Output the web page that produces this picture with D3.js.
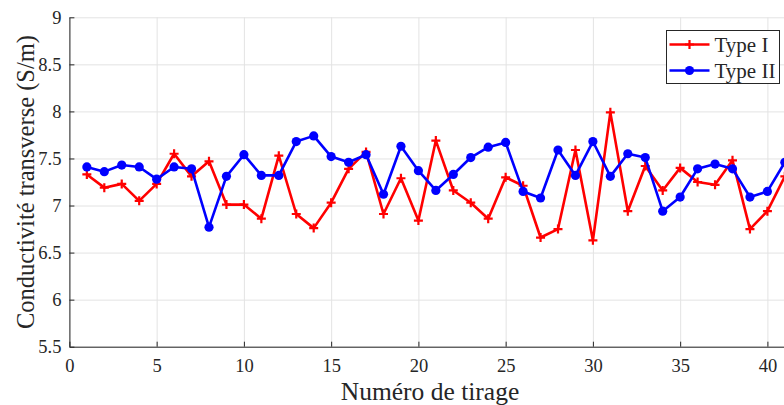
<!DOCTYPE html>
<html lang="fr">
<head>
    <meta charset="UTF-8">
    <title>Conductivité transverse</title>
    <script src="https://cdnjs.cloudflare.com/ajax/libs/d3/7.8.5/d3.min.js"></script>
    <style>
        body { margin: 0; background: #fff; }
        svg { display: block; overflow: hidden; }
        text { font-family: "Liberation Serif", "Times New Roman", serif; fill: #262626; }
    </style>
</head>
<body>
    <div id="wrapper"></div>
    <script>
        // données
        const tirage = [1, 2, 3, 4, 5, 6, 7, 8, 9, 10, 11, 12, 13, 14, 15, 16, 17, 18, 19, 20,
            21, 22, 23, 24, 25, 26, 27, 28, 29, 30, 31, 32, 33, 34, 35, 36, 37, 38, 39, 40, 41]
        const typeI = [7.33, 7.19, 7.23, 7.05, 7.23, 7.55, 7.31, 7.47, 7.01, 7.01, 6.86, 7.53, 6.91, 6.76, 7.03, 7.39, 7.57, 6.91, 7.29, 6.84,
            7.69, 7.16, 7.03, 6.86, 7.30, 7.21, 6.66, 6.75, 7.59, 6.63, 7.99, 6.94, 7.42, 7.16, 7.40, 7.25, 7.22, 7.48, 6.75, 6.94, 7.31]
        const typeII = [7.41, 7.36, 7.43, 7.41, 7.28, 7.41, 7.39, 6.77, 7.31, 7.54, 7.32, 7.32, 7.68, 7.74, 7.52, 7.46, 7.54, 7.12, 7.63, 7.37,
            7.16, 7.33, 7.51, 7.62, 7.67, 7.15, 7.08, 7.59, 7.32, 7.68, 7.31, 7.55, 7.51, 6.94, 7.09, 7.39, 7.44, 7.39, 7.09, 7.15, 7.46]
        const seriesNames = ['Type I', 'Type II']
        const xTicks = [0, 5, 10, 15, 20, 25, 30, 35, 40]
        const yTicks = [5.5, 6, 6.5, 7, 7.5, 8, 8.5, 9]

        function drawChart() {
            const dims = {
                width: 784,
                height: 405,
                left: 69.4,
                top: 17.3,
                bottom: 346.7,
                pxPerUnit: 17.45,
            }

            const svg = d3.select('#wrapper').append('svg')
                .attr('width', dims.width)
                .attr('height', dims.height)

            // l'axe continue au-delà du bord droit de l'image
            const xScale = d3.scaleLinear().domain([0, 50]).range([dims.left, dims.left + 50 * dims.pxPerUnit])
            const yScale = d3.scaleLinear().domain([5.5, 9]).range([dims.bottom, dims.top])

            // grille
            svg.append('g')
                .attr('transform', `translate(0,${dims.bottom})`)
                .call(d3.axisBottom(xScale).tickValues(xTicks).tickSize(-(dims.bottom - dims.top)).tickFormat(''))
                .call(g => g.select('.domain').remove())
                .call(g => g.selectAll('line').attr('stroke', '#e3e3e3'))
            svg.append('g')
                .attr('transform', `translate(${dims.left},0)`)
                .call(d3.axisLeft(yScale).tickValues(yTicks).tickSize(-(xScale(50) - dims.left)).tickFormat(''))
                .call(g => g.select('.domain').remove())
                .call(g => g.selectAll('line').attr('stroke', '#e3e3e3'))

            // axes
            const xAxis = svg.append('g')
                .attr('transform', `translate(0,${dims.bottom})`)
                .call(d3.axisBottom(xScale).tickValues(xTicks).tickSizeInner(-5).tickSizeOuter(0).tickPadding(12).tickFormat(d3.format('d')))
            const yAxis = svg.append('g')
                .attr('transform', `translate(${dims.left},0)`)
                .call(d3.axisLeft(yScale).tickValues(yTicks).tickSizeInner(-5).tickSizeOuter(0).tickPadding(8).tickFormat(d => String(d)))
            ;[xAxis, yAxis].forEach(a => {
                a.attr('font-family', null).attr('font-size', null)
                a.selectAll('.domain, line').attr('stroke', '#262626').attr('stroke-width', 1)
                a.selectAll('text').attr('font-size', 18.5).style('fill', '#262626')
            })

            // titres des axes
            svg.append('text')
                .attr('x', 430)
                .attr('y', 400)
                .attr('text-anchor', 'middle')
                .attr('font-size', 25.5)
                .text('Numéro de tirage')
            svg.append('text')
                .attr('transform', `translate(33.5,${(dims.top + dims.bottom) / 2}) rotate(-90)`)
                .attr('text-anchor', 'middle')
                .attr('font-size', 24.5)
                .text('Conductivité transverse (S/m)')

            // courbes
            const series = [
                { name: seriesNames[0], values: typeI, color: '#ff0000', marker: 'plus' },
                { name: seriesNames[1], values: typeII, color: '#0000ff', marker: 'circle' },
            ]
            const lineGenerator = d3.line()
                .x((d, i) => xScale(tirage[i]))
                .y(d => yScale(d))

            const drawMarker = (g, s) => {
                if (s.marker === 'plus') {
                    g.append('path')
                        .attr('d', 'M-4.5,0H4.5M0,-4.5V4.5')
                        .attr('stroke', s.color)
                        .attr('stroke-width', 2.2)
                } else {
                    g.append('circle')
                        .attr('r', 4.6)
                        .attr('fill', s.color)
                }
            }

            series.forEach(s => {
                svg.append('path')
                    .attr('d', lineGenerator(s.values))
                    .attr('fill', 'none')
                    .attr('stroke', s.color)
                    .attr('stroke-width', 2.6)
                    .attr('stroke-linejoin', 'round')
                svg.append('g').selectAll('g')
                    .data(s.values)
                    .join('g')
                        .attr('transform', (d, i) => `translate(${xScale(tirage[i])},${yScale(d)})`)
                        .each(function () { drawMarker(d3.select(this), s) })
            })

            // légende
            const legend = svg.append('g').attr('transform', 'translate(666.5,30.5)')
            legend.append('rect')
                .attr('width', 113)
                .attr('height', 53)
                .attr('fill', '#fff')
                .attr('stroke', '#262626')
                .attr('stroke-width', 1)
            series.forEach((s, i) => {
                const row = legend.append('g').attr('transform', `translate(0,${14 + i * 26})`)
                row.append('line')
                    .attr('x1', 3).attr('x2', 43)
                    .attr('stroke', s.color)
                    .attr('stroke-width', 2.6)
                drawMarker(row.append('g').attr('transform', 'translate(23,0)'), s)
                row.append('text')
                    .attr('x', 48)
                    .attr('y', 7)
                    .attr('font-size', 21)
                    .text(s.name)
            })
        }

        drawChart()
    </script>
</body>
</html>
